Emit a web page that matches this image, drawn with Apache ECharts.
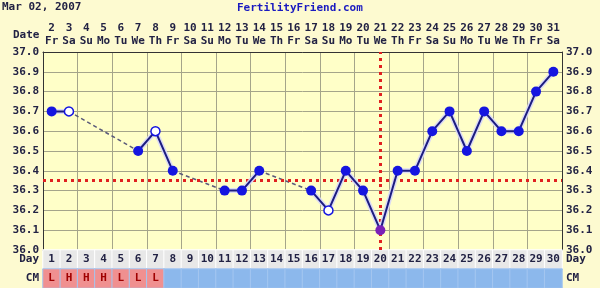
<!DOCTYPE html>
<html><head><meta charset="utf-8">
<script src="https://cdn.jsdelivr.net/npm/echarts@6/dist/echarts.min.js"></script>
<style>html,body{margin:0;padding:0;background:#fdfad0}#c{width:600px;height:288px}</style>
</head><body><div id="c"></div>
<script>
// ---- data ----
const days = ['1','2','3','4','5','6','7','8','9','10','11','12','13','14','15','16','17','18','19','20','21','22','23','24','25','26','27','28','29','30'];
const dates = ['2','3','4','5','6','7','8','9','10','11','12','13','14','15','16','17','18','19','20','21','22','23','24','25','26','27','28','29','30','31'];
const weekdays = ['Fr','Sa','Su','Mo','Tu','We','Th','Fr','Sa','Su','Mo','Tu','We','Th','Fr','Sa','Su','Mo','Tu','We','Th','Fr','Sa','Su','Mo','Tu','We','Th','Fr','Sa'];
const temps = [36.7,36.7,null,null,null,36.5,36.6,36.4,null,null,36.3,36.3,36.4,null,null,36.3,36.2,36.4,36.3,36.1,36.4,36.4,36.6,36.7,36.5,36.7,36.6,36.6,36.8,36.9];
const openDays = [2,7,17];
const gaps = [[2,6],[8,11],[13,16]];
const cmValues = ['L','H','H','H','L','L','L','','','','','','','','','','','','','','','','','','','','','','',''];
const coverline = 36.35;
const ovulationDay = 20;
const yMin = 36.0, yMax = 37.0, yStep = 0.1;
const titleDate = 'Mar 02, 2007';
const siteName = 'FertilityFriend.com';

// ---- chart ----
const FONT = 'DejaVu Sans Mono';
const TXT = '#222244';
const lab = {fontFamily: FONT, fontWeight: 'bold', fontSize: 11, color: TXT};
const L = 43, R = 38;

const mainData = temps.map((v, i) => {
  const d = i + 1;
  if (v === null) return null;
  if (openDays.includes(d)) return {value: v, symbolSize: 9, itemStyle: {color: '#ffffff', borderColor: '#1515e0', borderWidth: 1.5}};
  if (d === ovulationDay) return {value: v, itemStyle: {color: '#7a20b8'}};
  return v;
});

const gapSeries = gaps.map(([a, b]) => ({
  type: 'line', xAxisIndex: 0, yAxisIndex: 0, symbol: 'none', silent: true, z: 2,
  data: temps.map((v, i) => (i + 1 === a || i + 1 === b) ? v : null),
  connectNulls: true,
  lineStyle: {color: '#5a5a7a', width: 1.5, type: [4, 3]}
}));

const option = {
  animation: false,
  backgroundColor: '#fdfad0',
  textStyle: {fontFamily: FONT},
  graphic: [
    {type: 'text', left: 2, top: 2, style: {text: titleDate, font: 'bold 11px "DejaVu Sans Mono"', fill: TXT}},
    {type: 'text', left: 237, top: 3, style: {text: siteName, font: 'bold 11px "DejaVu Sans Mono"', fill: '#1a1ac0'}},
    {type: 'text', left: 13, top: 30, style: {text: 'Date', font: 'bold 11px "DejaVu Sans Mono"', fill: TXT}}
  ],
  grid: [
    {left: L, right: R, top: 52, height: 198, show: true, backgroundColor: '#ffffc8', borderWidth: 0},
    {left: L, right: R, top: 250, height: 19},
    {left: L, right: R, top: 269, height: 19}
  ],
  xAxis: [
    {gridIndex: 0, type: 'category', data: days, position: 'bottom', axisLabel: {show: false}, axisTick: {show: false},
     axisLine: {lineStyle: {color: '#333333'}}, splitLine: {show: true, lineStyle: {color: '#a5a58a', width: 1}}},
    {gridIndex: 0, type: 'category', data: dates, position: 'top', offset: 13, axisLine: {show: false}, axisTick: {show: false},
     axisLabel: Object.assign({margin: 5, interval: 0}, lab)},
    {gridIndex: 0, type: 'category', data: weekdays, position: 'top', axisLine: {lineStyle: {color: '#333333'}}, axisTick: {show: false},
     axisLabel: Object.assign({margin: 5, interval: 0}, lab)},
    {gridIndex: 1, type: 'category', data: days, axisLabel: {show: false}, axisTick: {show: false}, axisLine: {lineStyle: {color: '#777777'}}},
    {gridIndex: 2, type: 'category', data: days, axisLabel: {show: false}, axisTick: {show: false}, axisLine: {lineStyle: {color: '#333333'}}}
  ],
  yAxis: [
    {gridIndex: 0, type: 'value', min: yMin, max: yMax, interval: yStep, position: 'left',
     axisLine: {show: true, lineStyle: {color: '#333333'}}, axisTick: {show: false},
     splitLine: {show: true, lineStyle: {color: '#a5a58a', width: 1}},
     axisLabel: Object.assign({margin: 4, formatter: v => v.toFixed(1)}, lab)},
    {gridIndex: 0, type: 'value', min: yMin, max: yMax, interval: yStep, position: 'right',
     axisLine: {show: true, lineStyle: {color: '#333333'}}, axisTick: {show: false}, splitLine: {show: false},
     axisLabel: Object.assign({margin: 4, formatter: v => v.toFixed(1)}, lab)},
    {gridIndex: 1, type: 'category', data: ['Day'], position: 'left', axisLine: {show: false}, axisTick: {show: false}, axisLabel: Object.assign({margin: 4}, lab)},
    {gridIndex: 1, type: 'category', data: ['Day'], position: 'right', axisLine: {show: false}, axisTick: {show: false}, axisLabel: Object.assign({margin: 4}, lab)},
    {gridIndex: 2, type: 'category', data: ['CM'], position: 'left', axisLine: {show: false}, axisTick: {show: false}, axisLabel: Object.assign({margin: 4}, lab)},
    {gridIndex: 2, type: 'category', data: ['CM'], position: 'right', axisLine: {show: false}, axisTick: {show: false}, axisLabel: Object.assign({margin: 4}, lab)}
  ],
  series: [
    ...gapSeries,
    {type: 'line', xAxisIndex: 0, yAxisIndex: 0, data: temps, connectNulls: false, silent: true, z: 3,
     symbol: 'circle', symbolSize: 13, itemStyle: {color: 'rgba(225,225,255,0.9)'},
     lineStyle: {color: 'rgba(215,215,250,0.9)', width: 5}},
    {type: 'line', xAxisIndex: 0, yAxisIndex: 0, data: mainData, connectNulls: false, z: 4,
     symbol: 'circle', symbolSize: 10, itemStyle: {color: '#1515e0'},
     lineStyle: {color: '#1c1c80', width: 2},
     markLine: {silent: true, symbol: 'none', label: {show: false}, z: 3,
       lineStyle: {color: '#e02020', width: 3, type: [3, 4]},
       data: [{yAxis: coverline}, {xAxis: String(ovulationDay)}]}},
    {type: 'heatmap', xAxisIndex: 3, yAxisIndex: 2,
     data: days.map((d, i) => [i, 0, Number(d)]),
     itemStyle: {color: '#e8e8e8', borderColor: '#ffffff', borderWidth: 1},
     label: Object.assign({show: true, formatter: p => days[p.value[0]]}, lab)},
    {type: 'heatmap', xAxisIndex: 4, yAxisIndex: 4,
     data: cmValues.map((c, i) => ({value: [i, 0, 1], itemStyle: {color: c ? '#f09090' : '#8cb8ec'}})),
     itemStyle: {borderColor: '#a4c6f0', borderWidth: 1},
     label: Object.assign({show: true, formatter: p => cmValues[p.value[0]]}, lab, {color: '#a00000'})}
  ]
};
echarts.init(document.getElementById('c')).setOption(option);
</script></body></html>
